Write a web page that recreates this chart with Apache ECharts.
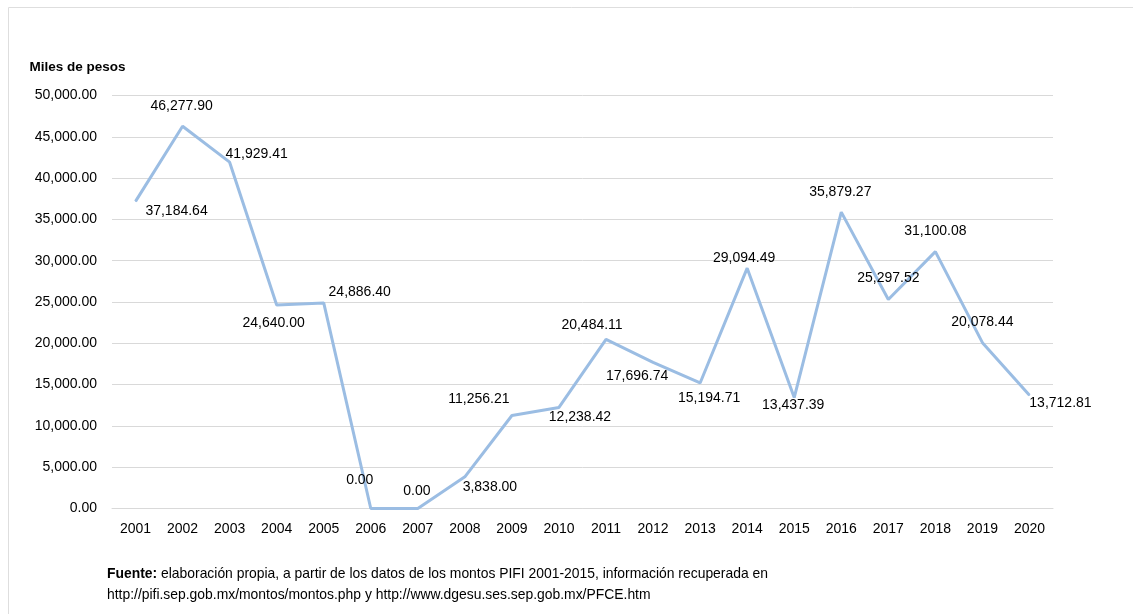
<!DOCTYPE html>
<html>
<head>
<meta charset="utf-8">
<script src="https://cdn.jsdelivr.net/npm/echarts@6/dist/echarts.min.js"></script>
<style>
html,body{margin:0;padding:0;background:#fff;}
#c{width:1133px;height:614px;}
</style>
</head>
<body>
<div id="c"></div>
<script>
const years = ['2001','2002','2003','2004','2005','2006','2007','2008','2009','2010','2011','2012','2013','2014','2015','2016','2017','2018','2019','2020'];
const montos = [37184.64, 46277.90, 41929.41, 24640.00, 24886.40, 0.00, 0.00, 3838.00, 11256.21, 12238.42, 20484.11, 17696.74, 15194.71, 29094.49, 13437.39, 35879.27, 25297.52, 31100.08, 20078.44, 13712.81];
const yTicks = [0, 5000, 10000, 15000, 20000, 25000, 30000, 35000, 40000, 45000, 50000];
const unitLabel = 'Miles de pesos';
const sourceBold = 'Fuente:';
const sourceLine1 = ' elaboración propia, a partir de los datos de los montos PIFI 2001-2015, información recuperada en';
const sourceLine2 = 'http://pifi.sep.gob.mx/montos/montos.php y http://www.dgesu.ses.sep.gob.mx/PFCE.htm';

// label placement (offsets in px from each point)
const labelOffsets = [[41,10],[-1,-20],[27,-8],[-3,18],[36,-11],[-11,-28],[-1,-17],[25,10],[-33,-16],[21,10],[-14,-14],[-16,14],[9,15],[-3,-10],[-1,8],[-1,-20],[0,-21],[0,-20],[0,-21],[31,8]];

const fmt = v => Number(v).toLocaleString('en-US', {minimumFractionDigits: 2, maximumFractionDigits: 2});
const FONT = '"Liberation Sans", Arial, Helvetica, sans-serif';

const chart = echarts.init(document.getElementById('c'), null, {renderer: 'canvas'});
chart.setOption({
  animation: false,
  backgroundColor: '#fff',
  textStyle: {fontFamily: FONT},
  grid: {left: 112, right: 80, top: 95.5, bottom: 105.5, containLabel: false},
  xAxis: {
    type: 'category',
    data: years,
    boundaryGap: true,
    axisLine: {show: true, lineStyle: {color: '#d9d9d9', width: 1}},
    axisTick: {show: false},
    axisLabel: {color: '#000', fontSize: 14, fontFamily: FONT, margin: 14, interval: 0}
  },
  yAxis: {
    type: 'value',
    min: yTicks[0],
    max: yTicks[yTicks.length - 1],
    interval: yTicks[1] - yTicks[0],
    axisLine: {show: false},
    axisTick: {show: false},
    splitLine: {show: true, lineStyle: {color: '#d9d9d9', width: 1}},
    axisLabel: {color: '#000', fontSize: 14, fontFamily: FONT, margin: 15, formatter: v => fmt(v)}
  },
  series: [{
    type: 'line',
    data: montos.map((v, i) => ({
      value: v,
      label: {offset: labelOffsets[i]}
    })),
    symbol: 'circle',
    symbolSize: 1,
    showSymbol: true,
    lineStyle: {color: '#9BBDE3', width: 3},
    itemStyle: {color: '#9BBDE3'},
    label: {
      show: true,
      position: 'inside',
      align: 'center',
      verticalAlign: 'middle',
      color: '#000',
      fontSize: 14,
      fontFamily: FONT,
      formatter: p => fmt(p.value)
    }
  }],
  graphic: [
    {type: 'rect', silent: true, shape: {x: 8.5, y: 7.5, width: 1300, height: 800}, style: {fill: 'none', stroke: '#dedede', lineWidth: 1}},
    {type: 'text', left: 29.5, top: 60, style: {text: unitLabel, font: 'bold 13.5px ' + FONT, fill: '#000'}},
    {type: 'text', left: 107, top: 567, style: {
      text: '{b|' + sourceBold + '}{n|' + sourceLine1 + '}\n{n|' + sourceLine2 + '}',
      rich: {
        b: {font: 'bold 13.9px ' + FONT, fill: '#000', lineHeight: 21},
        n: {font: '13.9px ' + FONT, fill: '#000', lineHeight: 21}
      }
    }}
  ]
});
</script>
</body>
</html>
